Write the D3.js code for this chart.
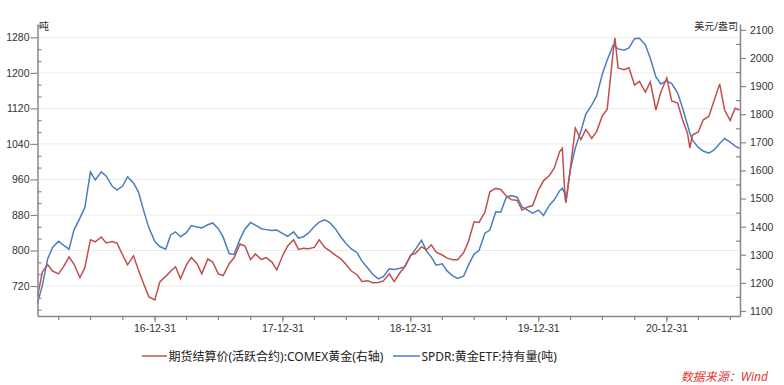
<!DOCTYPE html>
<html>
<head>
<meta charset="utf-8">
<script src="https://cdn.jsdelivr.net/npm/d3@7"></script>
<style>
  body { margin:0; background:#fff; }
  svg { display:block; font-family:"Noto Sans","Noto Sans CJK SC",sans-serif; }
</style>
</head>
<body>
<div id="chart"></div>
<script>
// semi-monthly samples
const dates = [
  "2016-02-01","2016-02-15","2016-03-01","2016-03-15","2016-04-01","2016-04-15","2016-05-01","2016-05-15",
  "2016-06-01","2016-06-15","2016-07-01","2016-07-15","2016-08-01","2016-08-15","2016-09-01","2016-09-15",
  "2016-10-01","2016-10-15","2016-11-01","2016-11-15","2016-12-01","2016-12-15",
  "2017-01-01","2017-01-15","2017-02-01","2017-02-15","2017-03-01","2017-03-15","2017-04-01","2017-04-15",
  "2017-05-01","2017-05-15","2017-06-01","2017-06-15","2017-07-01","2017-07-15","2017-08-01","2017-08-15",
  "2017-09-01","2017-09-15","2017-10-01","2017-10-15","2017-11-01","2017-11-15","2017-12-01","2017-12-15",
  "2018-01-01","2018-01-15","2018-02-01","2018-02-15","2018-03-01","2018-03-15","2018-04-01","2018-04-15",
  "2018-05-01","2018-05-15","2018-06-01","2018-06-15","2018-07-01","2018-07-15","2018-08-01","2018-08-15",
  "2018-09-01","2018-09-15","2018-10-01","2018-10-15","2018-11-01","2018-11-15","2018-12-01","2018-12-15",
  "2019-01-01","2019-01-15","2019-02-01","2019-02-15","2019-03-01","2019-03-15","2019-04-01","2019-04-15",
  "2019-05-01","2019-05-15","2019-06-01","2019-06-15","2019-07-01","2019-07-15","2019-08-01","2019-08-15",
  "2019-09-01","2019-09-15","2019-10-01","2019-10-15","2019-11-01","2019-11-15","2019-12-01","2019-12-15",
  "2020-01-01","2020-01-15","2020-02-01","2020-02-15","2020-03-01","2020-03-09","2020-03-15","2020-03-19",
  "2020-04-01","2020-04-15","2020-05-01","2020-05-15","2020-06-01","2020-06-15","2020-07-01","2020-07-15",
  "2020-08-01","2020-08-06","2020-08-15","2020-09-01","2020-09-15","2020-10-01","2020-10-15","2020-11-01",
  "2020-11-15","2020-12-01","2020-12-15",
  "2021-01-01","2021-01-15","2021-02-01","2021-02-15","2021-03-01","2021-03-08","2021-03-15","2021-04-01",
  "2021-04-15","2021-05-01","2021-05-15","2021-06-01","2021-06-15","2021-07-01","2021-07-15","2021-07-28"
];

// SPDR holdings, tons (left axis)
const spdrHoldings = [
  681,722,781,807,821,812,803,846, 873,896,977,959,977,968,945,936, 945,966,952,932,887,851,
  820,809,803,835,842,831,840,856, 853,851,858,862,849,830,793,791, 826,848,863,857,849,847,845,846,
  838,832,842,828,831,839,854,864, 869,863,848,831,815,804,795,776, 760,746,736,741,759,757,760,763,
  788,803,823,799,785,767,770,754, 743,737,742,767,792,800,839,846, 887,886,920,924,920,898,891,884,
  891,879,902,914,934,940,930,909, 983,1031,1069,1107,1128,1148,1197,1229,
  1262,1260,1254,1251,1256,1277,1278,1263, 1233,1191,1175,
  1182,1176,1155,1121,1083,1064,1049,1032, 1024,1019,1026,1041,1052,1044,1035,1030
];

// COMEX gold settlement, USD/oz (right axis)
const comexPrice = [
  1151,1239,1264,1242,1232,1257,1292,1267, 1219,1253,1353,1346,1363,1342,1347,1341, 1299,1264,1296,1246,1193,1150,
  1139,1203,1223,1241,1257,1214,1264,1290, 1269,1232,1285,1274,1232,1226,1268,1289, 1338,1331,1283,1303,1283,1290,1274,1246,
  1298,1331,1353,1319,1323,1321,1326,1353, 1326,1314,1298,1286,1265,1243,1229,1205, 1207,1200,1201,1207,1232,1204,1235,1257,
  1299,1305,1328,1318,1335,1309,1299,1288, 1282,1282,1307,1347,1417,1415,1451,1524, 1536,1532,1509,1496,1493,1459,1470,1475,
  1531,1563,1582,1609,1666,1679,1540,1484, 1609,1751,1710,1746,1714,1739,1794,1818,
  2022,2072,1965,1958,1965,1904,1917,1879, 1915,1815,1879,
  1929,1847,1840,1780,1733,1679,1726,1737, 1780,1792,1844,1908,1815,1778,1821,1815
];

const leftTicks = [720,800,880,960,1040,1120,1200,1280];
const rightTicks = [1100,1200,1300,1400,1500,1600,1700,1800,1900,2000,2100];
const yearEnds = ["2016-12-31","2017-12-31","2018-12-31","2019-12-31","2020-12-31"];
const seriesNames = ["期货结算价(活跃合约):COMEX黄金(右轴)","SPDR:黄金ETF:持有量(吨)"];
const seriesColors = ["#c0504d","#4a7ebb"];

const width = 784, height = 385;
const plot = {left:37.5, right:740, top:24, bottom:316};
const parse = d3.timeParse("%Y-%m-%d");
const dd = dates.map(parse);

const svg = d3.select("#chart").append("svg")
  .attr("width", width).attr("height", height);

const x = d3.scaleTime()
  .domain([parse("2016-02-01"), parse("2021-07-29")])
  .range([plot.left, plot.right]);
const yL = d3.scaleLinear().domain([652.5, 1310]).range([plot.bottom, plot.top]);
const yR = d3.scaleLinear().domain([1082, 2121]).range([plot.bottom, plot.top]);

// grid
svg.append("g").selectAll("line").data(leftTicks).join("line")
  .attr("x1", plot.left).attr("x2", plot.right)
  .attr("y1", d=>yL(d)).attr("y2", d=>yL(d))
  .attr("stroke","#ebebeb").attr("stroke-width",1);

// lines
const lineL = d3.line().x((d,i)=>x(dd[i])).y(d=>yL(d));
const lineR = d3.line().x((d,i)=>x(dd[i])).y(d=>yR(d));

svg.append("path").datum(spdrHoldings)
  .attr("d", lineL).attr("fill","none")
  .attr("stroke", seriesColors[1]).attr("stroke-width",1.5);
svg.append("path").datum(comexPrice)
  .attr("d", lineR).attr("fill","none")
  .attr("stroke", seriesColors[0]).attr("stroke-width",1.5);

// axes
const axisColor = "#888";
function styleAxis(g, showDomain){
  g.selectAll(".tick line").attr("stroke", axisColor).attr("stroke-width",1.2);
  g.selectAll(".tick text").attr("fill","#333").style("font-size","10.5px");
  g.select(".domain").attr("stroke", showDomain ? axisColor : "none").attr("stroke-width",1.5);
}

const minorLeft = d3.range(-3, 25).map(i => 720 + i*80/3)
  .filter(v => v > yL.domain()[0] && v < yL.domain()[1] && Math.abs(((v-720)/80) % 1) > 0.01);
const minorRight = d3.range(1050, 2150, 100).filter(v => v > yR.domain()[0] && v < yR.domain()[1]);
const fmt = d3.format("d");

svg.append("g").attr("transform",`translate(${plot.left},0)`)
  .call(d3.axisLeft(yL).tickValues(minorLeft).tickSize(-4).tickFormat("").tickSizeOuter(0))
  .call(g=>styleAxis(g,false));
svg.append("g").attr("transform",`translate(${plot.left},0)`)
  .call(d3.axisLeft(yL).tickValues(leftTicks).tickSize(7).tickPadding(1).tickFormat(fmt).tickSizeOuter(0))
  .call(g=>styleAxis(g,true));

svg.append("g").attr("transform",`translate(${plot.right},0)`)
  .call(d3.axisRight(yR).tickValues(minorRight).tickSize(-4).tickFormat("").tickSizeOuter(0))
  .call(g=>styleAxis(g,false));
svg.append("g").attr("transform",`translate(${plot.right},0)`)
  .call(d3.axisRight(yR).tickValues(rightTicks).tickSize(6).tickPadding(4).tickFormat(fmt).tickSizeOuter(0))
  .call(g=>styleAxis(g,true));

const quarterEnds = d3.timeMonth.range(new Date(2016,3,1), x.domain()[1], 3)
  .map(d => d3.timeDay.offset(d,-1));
svg.append("g").attr("transform",`translate(0,${plot.bottom})`)
  .call(d3.axisBottom(x).tickValues(quarterEnds).tickSize(4).tickFormat("").tickSizeOuter(0))
  .call(g=>styleAxis(g,true));
svg.append("g").attr("transform",`translate(0,${plot.bottom})`)
  .call(d3.axisBottom(x).tickValues(yearEnds.map(parse)).tickSize(6).tickPadding(3)
    .tickFormat(d3.timeFormat("%y-%m-%d")).tickSizeOuter(0))
  .call(g=>styleAxis(g,false));

// units
svg.append("text").attr("x", 39).attr("y", 29.5)
  .attr("fill","#333").style("font-size","10px").text("吨");
svg.append("text").attr("x", 738).attr("y", 29.5).attr("text-anchor","end")
  .attr("fill","#333").style("font-size","10px").text("美元/盎司");

// legend
const legend = [
  {x:142, w:25, i:0},
  {x:393, w:27, i:1}
];
legend.forEach(l=>{
  svg.append("line")
    .attr("x1", l.x).attr("x2", l.x + l.w)
    .attr("y1", 356).attr("y2", 356)
    .attr("stroke", seriesColors[l.i]).attr("stroke-width",1.5);
  svg.append("text")
    .attr("x", l.x + l.w + 1.5).attr("y", 360.5)
    .attr("fill","#222").style("font-size","12px")
    .text(seriesNames[l.i]);
});

// source
svg.append("text").attr("x", 768).attr("y", 381).attr("text-anchor","end")
  .attr("fill","#e53935").style("font-size","12px").style("font-style","italic")
  .text("数据来源：Wind");
</script>
</body>
</html>
